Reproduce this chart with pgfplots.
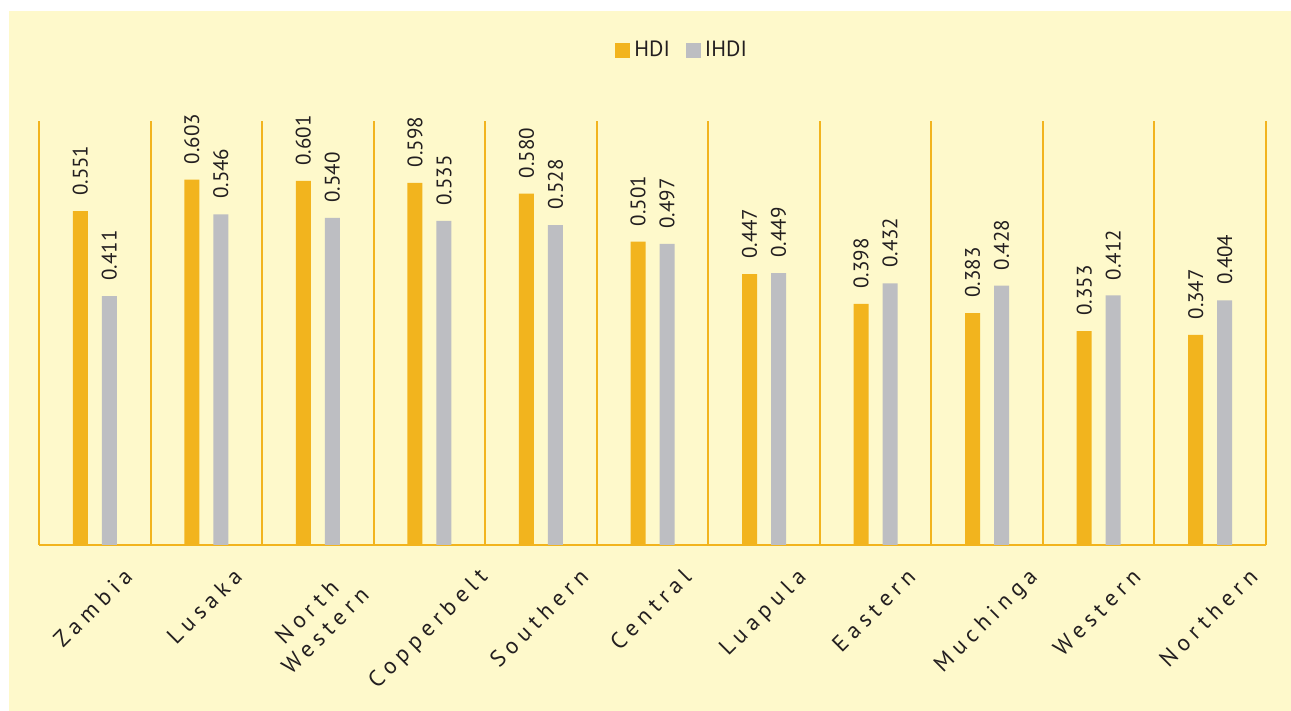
\documentclass[border=0pt]{standalone}
\usepackage{fontspec}
\setmainfont{PT Sans}
\newfontfamily\spaced[LetterSpace=24]{PT Sans}
\usepackage{graphicx}
\usepackage{pgfplots}
\pgfplotsset{compat=1.18}
\definecolor{bgy}{HTML}{FEF9CB}
\definecolor{gold}{HTML}{F2B41E}
\definecolor{gry}{HTML}{BDBEC2}
\definecolor{txt}{HTML}{231F20}
\newcommand\rl[1]{\rotatebox{45}{\fontsize{11.5}{13}\spaced\begin{tabular}{@{}c@{}}#1\end{tabular}}}
\begin{document}
\begin{tikzpicture}
\fill[white] (-19.5pt,-83pt) rectangle (626pt,272.5pt);
\fill[bgy] (-15pt,-83pt) rectangle (626pt,267pt);
\begin{axis}[
  at={(0,0)}, anchor=south west,
  scale only axis, width=613.5pt, height=212pt,
  xmin=-0.5, xmax=10.5, ymin=0, ymax=0.7,
  axis x line=bottom, axis y line=none,
  axis line style={draw=gold, line width=1pt, -},
  xtick={0,...,10}, major tick length=0pt,
  minor xtick={-0.5,0.5,...,10.5}, minor tick length=0pt,
  xminorgrids, minor grid style={draw=gold, line width=1pt},
  xticklabels={{\rl{Zambia}},{\rl{Lusaka}},{\rl{North\\Western}},{\rl{Copperbelt}},{\rl{Southern}},{\rl{Central}},{\rl{Luapula}},{\rl{Eastern}},{\rl{Muchinga}},{\rl{Western}},{\rl{Northern}}},
  xticklabel style={anchor=north, inner sep=0pt, yshift=-10pt, text=txt},
  ybar=7pt, bar width=7.5pt,
  clip=false,
  point meta=explicit symbolic,
  nodes near coords={\pgfplotspointmeta},
  every node near coord/.append style={font=\fontsize{10.5}{12}\selectfont, text=txt, rotate=90, anchor=west, inner sep=0pt, inner xsep=7.5pt},
  legend style={at={(0.525,1.167)}, anchor=center, draw=none, fill=none, legend columns=2,
    font=\fontsize{11}{13}\selectfont, text=txt,
    /tikz/every even column/.append style={column sep=6pt}},
  legend image code/.code={\draw[#1, draw=none] (0pt,-3.75pt) rectangle (7.5pt,3.75pt);},
]
\addplot[fill=gold, draw=none] coordinates {
(0,0.551) [0.551] (1,0.603) [0.603] (2,0.601) [0.601] (3,0.598) [0.598] (4,0.580) [0.580] (5,0.501) [0.501] (6,0.447) [0.447] (7,0.398) [0.398] (8,0.383) [0.383] (9,0.353) [0.353] (10,0.347) [0.347]};
\addplot[fill=gry, draw=none] coordinates {
(0,0.411) [0.411] (1,0.546) [0.546] (2,0.540) [0.540] (3,0.535) [0.535] (4,0.528) [0.528] (5,0.497) [0.497] (6,0.449) [0.449] (7,0.432) [0.432] (8,0.428) [0.428] (9,0.412) [0.412] (10,0.404) [0.404]};
\legend{HDI,IHDI}
\end{axis}
\end{tikzpicture}
\end{document}
